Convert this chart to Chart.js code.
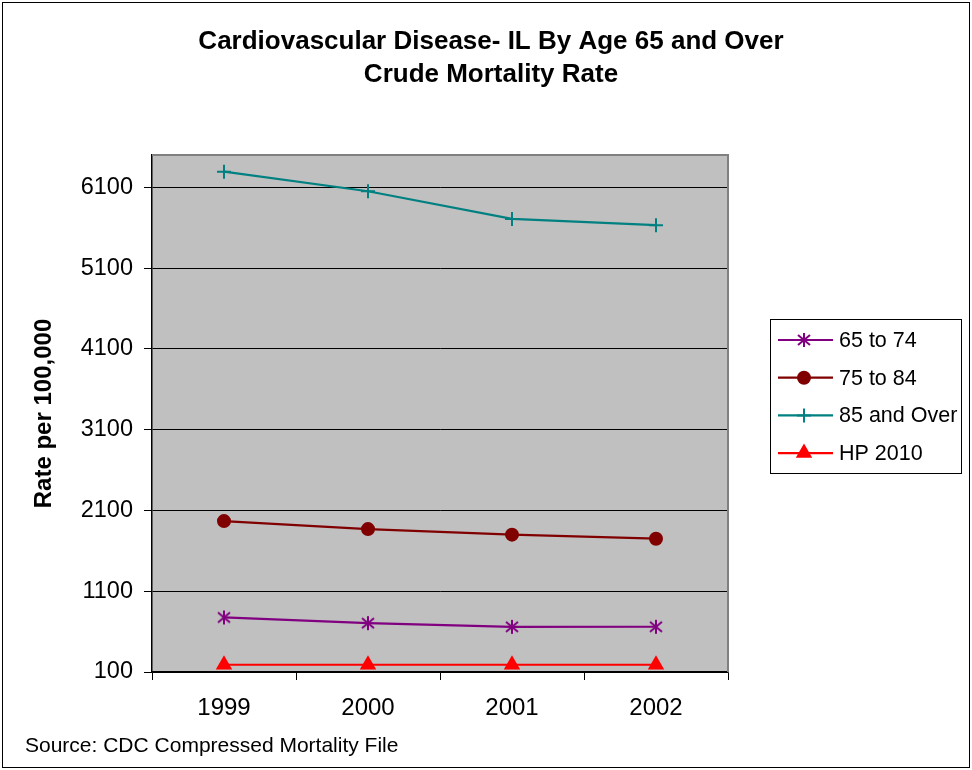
<!DOCTYPE html>
<html>
<head>
<meta charset="utf-8">
<script src="https://cdn.jsdelivr.net/npm/chart.js@4/dist/chart.umd.min.js"></script>
<style>
    body { margin: 0; background: #fff; }
    canvas { display: block; }
</style>
</head>
<body>
<canvas id="chart" width="972" height="770"></canvas>
<script>
const years = ['1999', '2000', '2001', '2002'];
const age65to74 = [775, 705, 659, 660];
const age75to84 = [1968, 1869, 1800, 1750];
const age85over = [6294, 6051, 5709, 5631];
const hp2010 = [190, 190, 190, 190];
const yTicks = [100, 1100, 2100, 3100, 4100, 5100, 6100];
const titleLines = ['Cardiovascular Disease- IL By Age 65 and Over', 'Crude Mortality Rate'];
const sourceText = 'Source: CDC Compressed Mortality File';

const FONT = '"Liberation Sans", Arial, sans-serif';

// excel style asterisk marker: vertical bar plus an X
function asterisk(color) {
    const c = document.createElement('canvas');
    c.width = 16;
    c.height = 16;
    const g = c.getContext('2d');
    g.strokeStyle = color;
    g.lineWidth = 2;
    g.beginPath();
    g.moveTo(8, 1); g.lineTo(8, 15);
    g.moveTo(2, 3); g.lineTo(14, 13);
    g.moveTo(14, 3); g.lineTo(2, 13);
    g.stroke();
    return c;
}

function makeSet(label, data, color, style, radius) {
    return {
        label: label,
        data: data,
        borderColor: color,
        backgroundColor: color,
        borderWidth: 2.2,
        pointStyle: style,
        pointRadius: radius,
        pointBorderWidth: 2,
        pointBorderColor: color,
        pointBackgroundColor: color,
        tension: 0,
        fill: false
    };
}

// background, borders, titles, legend, source note
const decorPlugin = {
    id: 'decor',
    beforeDraw(chart) {
        const ctx = chart.ctx;
        const a = chart.chartArea;
        ctx.save();
        ctx.fillStyle = '#fff';
        ctx.fillRect(0, 0, chart.width, chart.height);
        ctx.fillStyle = '#C0C0C0';
        ctx.fillRect(a.left, a.top, a.right - a.left, a.bottom - a.top);
        ctx.restore();
    },
    beforeDatasetsDraw(chart) {
        const ctx = chart.ctx;
        const a = chart.chartArea;
        ctx.save();
        ctx.strokeStyle = '#808080';
        ctx.lineWidth = 2;
        ctx.beginPath();
        ctx.moveTo(a.left, a.top);
        ctx.lineTo(a.right, a.top);
        ctx.lineTo(a.right, a.bottom);
        ctx.stroke();
        ctx.restore();
    },
    afterDraw(chart) {
        const ctx = chart.ctx;
        ctx.save();
        // outer frame
        ctx.strokeStyle = '#000';
        ctx.lineWidth = 1;
        ctx.strokeRect(2.5, 2.5, chart.width - 5, chart.height - 5);

        // title
        ctx.fillStyle = '#000';
        ctx.textAlign = 'center';
        ctx.textBaseline = 'middle';
        ctx.font = 'bold 26px ' + FONT;
        ctx.fillText(titleLines[0], 491, 42);
        ctx.fillText(titleLines[1], 491, 75);

        // source
        ctx.textAlign = 'left';
        ctx.font = '21px ' + FONT;
        ctx.fillText(sourceText, 25, 746);

        // legend
        const lx = 770, ly = 319, lw = 191, lh = 154;
        ctx.strokeStyle = '#000';
        ctx.lineWidth = 1;
        ctx.strokeRect(lx + 0.5, ly + 0.5, lw, lh);
        ctx.font = '21.5px ' + FONT;
        chart.data.datasets.forEach(function (ds, i) {
            const y = ly + 21 + i * 37.7;
            ctx.strokeStyle = ds.borderColor;
            ctx.lineWidth = 2.2;
            ctx.beginPath();
            ctx.moveTo(778, y);
            ctx.lineTo(833, y);
            ctx.stroke();
            ctx.fillStyle = ds.borderColor;
            ctx.lineWidth = 2;
            Chart.helpers.drawPoint(ctx, {
                pointStyle: ds.pointStyle,
                radius: ds.pointRadius,
                rotation: 0,
                borderWidth: 2
            }, 804, y);
            ctx.fillStyle = '#000';
            ctx.fillText(ds.label, 839, y + 1);
        });
        ctx.restore();
    }
};

new Chart(document.getElementById('chart'), {
    type: 'line',
    data: {
        labels: years,
        datasets: [
            makeSet('65 to 74', age65to74, '#800080', asterisk('#800080'), 7),
            makeSet('75 to 84', age75to84, '#800000', 'circle', 6),
            makeSet('85 and Over', age85over, '#008080', 'cross', 7),
            makeSet('HP 2010', hp2010, '#FF0000', 'triangle', 7.5)
        ]
    },
    options: {
        responsive: false,
        animation: false,
        layout: {padding: {top: 155, right: 244, bottom: 0, left: 0}},
        plugins: {
            legend: {display: false},
            title: {display: false},
            tooltip: {enabled: false}
        },
        scales: {
            x: {
                offset: true,
                grid: {offset: true, drawOnChartArea: false, color: '#000', tickLength: 8},
                border: {color: '#000', width: 1.5},
                ticks: {color: '#000', font: {family: FONT, size: 24}, padding: 14},
                afterFit(scale) { scale.height = 98; }
            },
            y: {
                min: 100,
                max: 6500,
                afterBuildTicks(axis) {
                    axis.ticks = yTicks.map(v => ({value: v}));
                },
                grid: {color: '#000', lineWidth: 1, tickLength: 8},
                border: {color: '#000', width: 1.5},
                ticks: {
                    color: '#000',
                    font: {family: FONT, size: 23.5},
                    padding: 11,
                    callback: value => String(value)
                },
                title: {
                    display: true,
                    text: 'Rate per 100,000',
                    color: '#000',
                    font: {family: FONT, size: 24, weight: 'bold'},
                    padding: {top: 30, bottom: 0}
                },
                afterFit(scale) { scale.width = 152; }
            }
        }
    },
    plugins: [decorPlugin]
});
</script>
</body>
</html>
